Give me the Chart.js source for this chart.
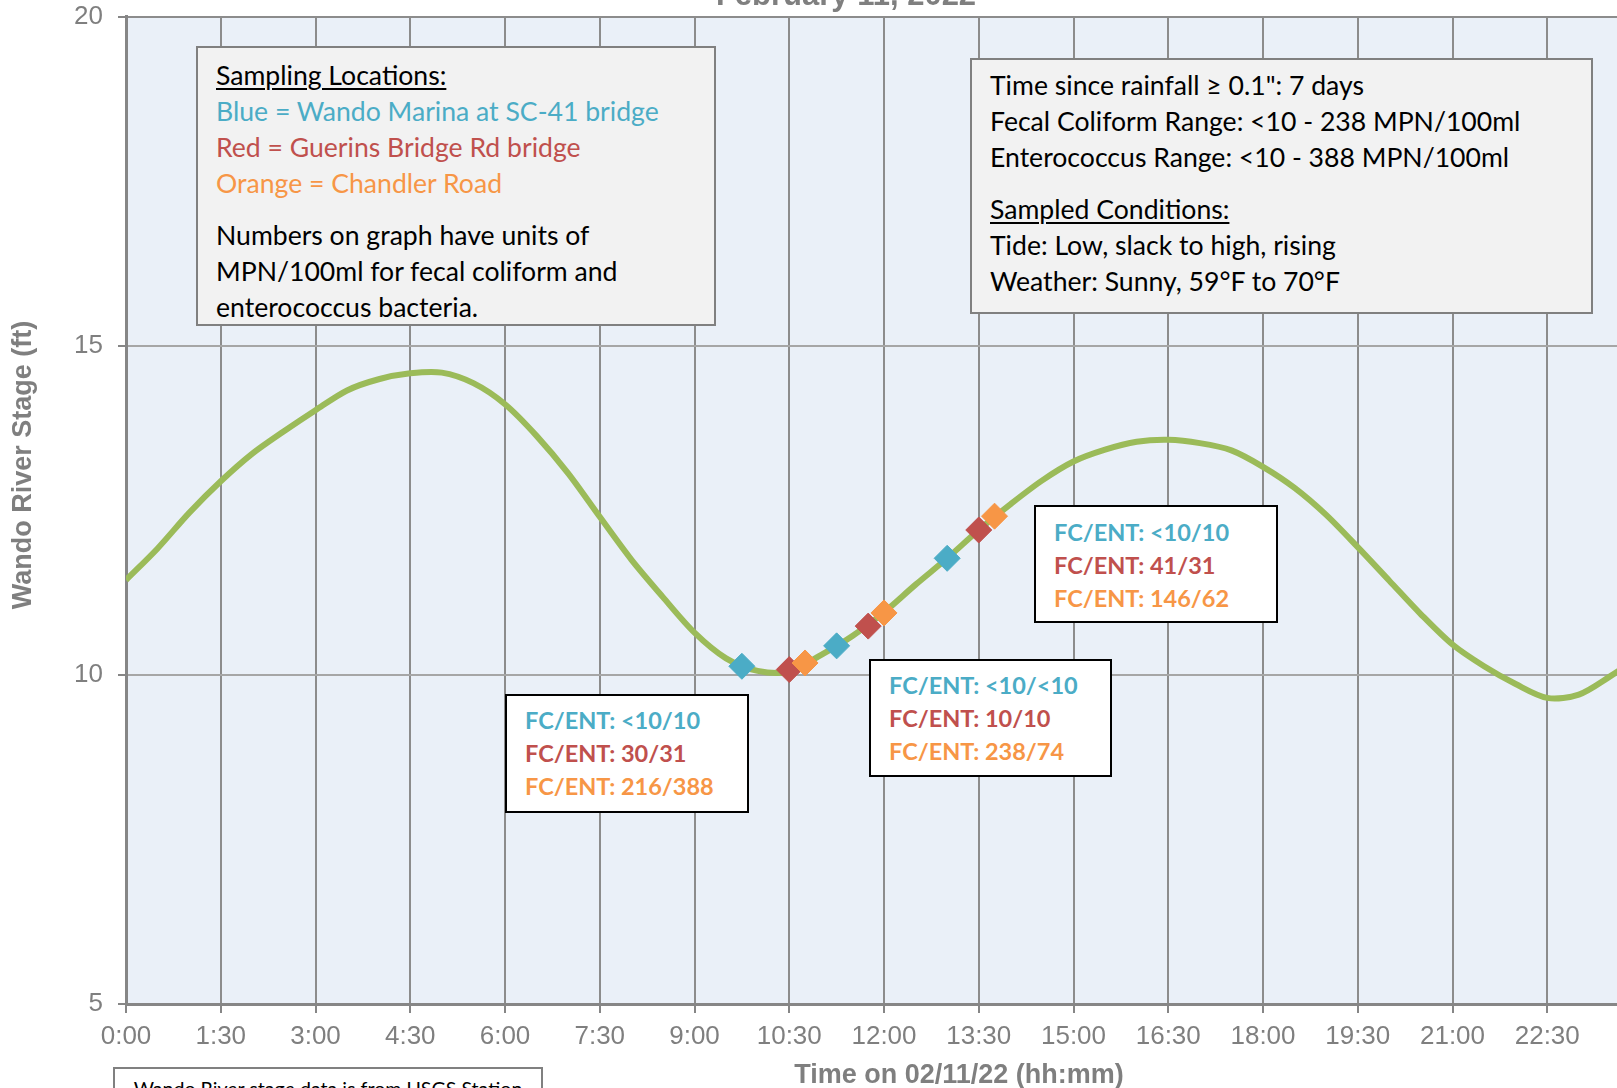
<!DOCTYPE html>
<html lang="en">
<head>
<meta charset="utf-8">
<title>Wando River Stage - February 11, 2022</title>
<script src="https://cdn.jsdelivr.net/npm/chart.js@4.4.1/dist/chart.umd.min.js"></script>
<style>
  html, body { margin: 0; padding: 0; background: #fff; overflow: hidden; }
  #frame { position: relative; width: 1617px; height: 1088px; overflow: hidden; }
  #stage-chart { position: absolute; left: 0; top: 0; }
  .note { position: absolute; box-sizing: border-box; white-space: nowrap; font-family: Lato, 'Noto Sans', sans-serif; color: #000; }
  .note-grey { background: #f2f2f2; border: 2px solid #808080; font-size: 26.6px; line-height: 36px; padding-left: 18px; }
  .note-fc { background: #fff; border: 2px solid #000; font-weight: bold; font-size: 23.5px; line-height: 33px; padding-left: 18px; }
  .note-source { background: #fff; border: 2px solid #808080; font-size: 19.6px; line-height: 25px; text-align: center; }
  .gap { margin-top: 15.5px; }
  .u { text-decoration: underline; text-underline-offset: 3px; }
  .blue { color: #4bacc6; }
  .red { color: #c0504d; }
  .orange { color: #f79646; }
</style>
</head>
<body>
<div id="frame">
  <canvas id="stage-chart" width="1720" height="1088"></canvas>

  <div class="note note-grey" style="left:196px;top:46px;width:520px;height:280px;padding-top:9px;">
    <div class="u">Sampling Locations:</div>
    <div class="blue">Blue = Wando Marina at SC-41 bridge</div>
    <div class="red">Red = Guerins Bridge Rd bridge</div>
    <div class="orange">Orange = Chandler Road</div>
    <div class="gap">Numbers on graph have units of</div>
    <div>MPN/100ml for fecal coliform and</div>
    <div>enterococcus bacteria.</div>
  </div>

  <div class="note note-grey" style="left:970px;top:58px;width:623px;height:256px;padding-top:7px;">
    <div>Time since rainfall &ge; 0.1&quot;: 7 days</div>
    <div>Fecal Coliform Range: &lt;10 - 238 MPN/100ml</div>
    <div>Enterococcus Range: &lt;10 - 388 MPN/100ml</div>
    <div class="gap u">Sampled Conditions:</div>
    <div>Tide: Low, slack to high, rising</div>
    <div>Weather: Sunny, 59&deg;F to 70&deg;F</div>
  </div>

  <div class="note note-fc" style="left:505px;top:694px;width:244px;height:119px;padding-top:8px;">
    <div class="blue">FC/ENT: &lt;10/10</div>
    <div class="red">FC/ENT: 30/31</div>
    <div class="orange">FC/ENT: 216/388</div>
  </div>

  <div class="note note-fc" style="left:869px;top:659px;width:243px;height:118px;padding-top:8px;">
    <div class="blue">FC/ENT: &lt;10/&lt;10</div>
    <div class="red">FC/ENT: 10/10</div>
    <div class="orange">FC/ENT: 238/74</div>
  </div>

  <div class="note note-fc" style="left:1034px;top:505px;width:244px;height:118px;padding-top:9px;">
    <div class="blue">FC/ENT: &lt;10/10</div>
    <div class="red">FC/ENT: 41/31</div>
    <div class="orange">FC/ENT: 146/62</div>
  </div>

  <div class="note note-source" style="left:113px;top:1067px;width:430px;height:60px;padding-top:7px;">
    <div>Wando River stage data is from USGS Station</div>
  </div>
</div>

<script>
'use strict';

// ***************** DATA ***************** //

const chartTitle = 'February 11, 2022';
const xTitle = 'Time on 02/11/22 (hh:mm)';
const yTitle = 'Wando River Stage (ft)';

// hours after midnight, every 30 minutes
const stageHours = [
  0, 0.5, 1, 1.5, 2, 2.5, 3, 3.5, 4, 4.5, 5, 5.5, 6, 6.5, 7, 7.5,
  8, 8.5, 9, 9.5, 10, 10.5, 11, 11.5, 12, 12.5, 13, 13.5, 14, 14.5, 15, 15.5,
  16, 16.5, 17, 17.5, 18, 18.5, 19, 19.5, 20, 20.5, 21, 21.5, 22, 22.5, 23, 23.5, 24
];
const stageFeet = [
  11.44, 11.92, 12.46, 12.94, 13.36, 13.70, 14.02, 14.32, 14.49, 14.58, 14.59, 14.43, 14.11, 13.63, 13.06, 12.40,
  11.75, 11.18, 10.64, 10.25, 10.06, 10.05, 10.30, 10.59, 10.95, 11.37, 11.77, 12.20, 12.59, 12.95, 13.24, 13.42,
  13.54, 13.57, 13.52, 13.41, 13.16, 12.84, 12.43, 11.94, 11.43, 10.92, 10.46, 10.13, 9.86, 9.65, 9.70, 9.98, 10.30
];

// sample times (hours) and stage at each site
const blueHours = [9.75, 11.25, 13.0];
const blueFeet = [10.13, 10.44, 11.77];
const redHours = [10.5, 11.75, 13.5];
const redFeet = [10.08, 10.74, 12.20];
const orangeHours = [10.75, 12.0, 13.75];
const orangeFeet = [10.18, 10.94, 12.41];

const timeTicks = [0, 1.5, 3, 4.5, 6, 7.5, 9, 10.5, 12, 13.5, 15, 16.5, 18, 19.5, 21, 22.5, 24];

// ***************** HELPERS ***************** //

function toPoints(xs, ys) {
  return xs.map((x, i) => ({ x: x, y: ys[i] }));
}

function formatHour(value) {
  if (value >= 24) {
    return '';
  }
  let h = Math.floor(value);
  let m = Math.round((value - h) * 60);
  return h + ':' + (m < 10 ? '0' + m : m);
}

function markerSet(xs, ys, color) {
  return {
    data: toPoints(xs, ys),
    showLine: false,
    pointStyle: 'rectRot',
    pointRadius: 13,
    pointBackgroundColor: color,
    pointBorderColor: color,
    pointBorderWidth: 1
  };
}

// ***************** PLUGINS ***************** //

const plotBackground = {
  id: 'plotBackground',
  beforeDraw(chart) {
    let a = chart.chartArea;
    let ctx = chart.ctx;
    ctx.save();
    ctx.fillStyle = '#eaf0f8';
    ctx.fillRect(a.left, a.top, a.right - a.left, a.bottom - a.top);
    ctx.restore();
  }
};

const chartLabels = {
  id: 'chartLabels',
  afterDraw(chart) {
    let ctx = chart.ctx;
    ctx.save();
    ctx.fillStyle = '#7f7f7f';
    ctx.textAlign = 'center';
    ctx.textBaseline = 'alphabetic';

    ctx.font = 'bold 31px "Liberation Sans", Arial, sans-serif';
    ctx.fillText(chartTitle, 846, 5);

    ctx.font = 'bold 27px "Liberation Sans", Arial, sans-serif';
    ctx.fillText(xTitle, 959, 1083);

    ctx.translate(31, 465);
    ctx.rotate(-Math.PI / 2);
    ctx.fillText(yTitle, 0, 0);
    ctx.restore();
  }
};

// ***************** CHART ***************** //

let ctx = document.getElementById('stage-chart').getContext('2d');

const tickFont = { family: '"Liberation Sans", Arial, sans-serif', size: 26 };

new Chart(ctx, {
  type: 'line',
  data: {
    datasets: [
      markerSet(orangeHours, orangeFeet, '#f79646'),
      markerSet(redHours, redFeet, '#c0504d'),
      markerSet(blueHours, blueFeet, '#4bacc6'),
      {
        data: toPoints(stageHours, stageFeet),
        borderColor: '#9bbb59',
        borderWidth: 6,
        pointRadius: 0,
        tension: 0.3,
        fill: false
      }
    ]
  },
  options: {
    responsive: false,
    animation: false,
    devicePixelRatio: 1,
    layout: { padding: { top: 16.5, right: 78, left: 0, bottom: 0 } },
    plugins: {
      legend: { display: false },
      tooltip: { enabled: false }
    },
    scales: {
      x: {
        type: 'linear',
        min: 0,
        max: 24,
        afterFit(scale) {
          scale.height = 84;
          scale.paddingRight = 0;
        },
        afterBuildTicks(scale) { scale.ticks = timeTicks.map(v => ({ value: v })); },
        ticks: {
          color: '#7f7f7f',
          font: tickFont,
          padding: 8,
          maxRotation: 0,
          autoSkip: false,
          callback: formatHour
        },
        grid: { color: '#8c8c8c', lineWidth: 2, tickLength: 9, tickColor: '#868686' },
        border: { color: '#868686', width: 3 }
      },
      y: {
        min: 5,
        max: 20,
        afterFit(scale) {
          scale.width = 126;
          scale.paddingTop = 0;
          scale.paddingBottom = 0;
        },
        ticks: { stepSize: 5, color: '#7f7f7f', font: tickFont, padding: 15 },
        grid: {
          color: c => (c.tick && c.tick.value === 20 ? '#8c8c8c' : '#a6a6a6'),
          lineWidth: 2,
          tickLength: 8,
          tickColor: '#868686'
        },
        border: { color: '#868686', width: 3 }
      }
    }
  },
  plugins: [plotBackground, chartLabels]
});
</script>
</body>
</html>
